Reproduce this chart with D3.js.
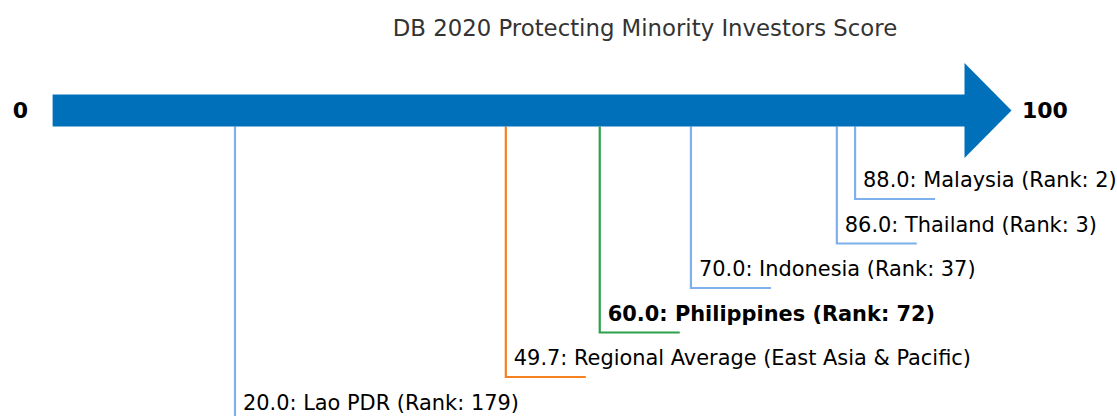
<!DOCTYPE html>
<html>
<head>
<meta charset="utf-8">
<script src="https://cdn.jsdelivr.net/npm/d3@7"></script>
<style>
body { margin: 0; background: #fff; }
svg { display: block; }
</style>
</head>
<body>
<svg id="chart"></svg>
<script>
var width = 1117, height = 416;

// data
var economies = ["Lao PDR", "Regional Average (East Asia & Pacific)", "Philippines", "Indonesia", "Thailand", "Malaysia"];
var scores = [20.0, 49.7, 60.0, 70.0, 86.0, 88.0];
var ranks = [179, null, 72, 37, 3, 2];
var kinds = ["peer", "region", "focus", "peer", "peer", "peer"];
var axisEnds = [0, 100];

var colors = { peer: "#7eb0ec", region: "#f58220", focus: "#2ca04a" };

var svg = d3.select("#chart").attr("width", width).attr("height", height);

var x = d3.scaleLinear().domain(axisEnds).range([52.6, 964.5]);

var arrowY = 110.5, shaftH = 32, headH = 95, headLen = 47;
var topLevel = 199, step = 44.5;

svg.append("text")
	.attr("x", 645)
	.attr("y", 35.5)
	.attr("text-anchor", "middle")
	.style("font-family", "'DejaVu Sans', sans-serif")
	.style("font-size", "22.8px")
	.style("fill", "#333")
	.text("DB 2020 Protecting Minority Investors Score");

// leader lines, drawn first so the arrow sits on top
var n = scores.length;
var g = svg.append("g");
scores.forEach(function(s, i){
	var level = topLevel + step * (n - 1 - i);
	var cx = x(s);
	g.append("path")
		.attr("d", "M" + cx + "," + (arrowY + shaftH / 2) + "V" + level + "H" + (cx + 80))
		.style("stroke", colors[kinds[i]])
		.style("stroke-width", 2.2)
		.style("fill", "none");
	var label = s.toFixed(1) + ": " + economies[i] + (ranks[i] != null ? " (Rank: " + ranks[i] + ")" : "");
	g.append("text")
		.attr("x", cx + 8)
		.attr("y", level - 12)
		.style("font-family", "'DejaVu Sans', sans-serif")
		.style("font-size", "20.9px")
		.style("font-weight", kinds[i] == "focus" ? "bold" : "normal")
		.style("fill", "#000")
		.text(label);
});

// arrow
svg.append("rect")
	.attr("x", x(axisEnds[0]))
	.attr("y", arrowY - shaftH / 2)
	.attr("width", x(axisEnds[1]) - x(axisEnds[0]) + 1)
	.attr("height", shaftH)
	.style("fill", "#0070bb");
svg.append("path")
	.attr("d", "M" + x(axisEnds[1]) + "," + (arrowY - headH / 2) + "L" + (x(axisEnds[1]) + headLen) + "," + arrowY + "L" + x(axisEnds[1]) + "," + (arrowY + headH / 2) + "Z")
	.style("fill", "#0070bb");

svg.append("text")
	.attr("x", 20.5)
	.attr("y", arrowY)
	.attr("dy", "0.36em")
	.attr("text-anchor", "middle")
	.style("font-family", "'DejaVu Sans', sans-serif")
	.style("font-size", "22px")
	.style("font-weight", "bold")
	.text(axisEnds[0]);
svg.append("text")
	.attr("x", 1022)
	.attr("y", arrowY)
	.attr("dy", "0.36em")
	.style("font-family", "'DejaVu Sans', sans-serif")
	.style("font-size", "22px")
	.style("font-weight", "bold")
	.text(axisEnds[1]);
</script>
</body>
</html>
